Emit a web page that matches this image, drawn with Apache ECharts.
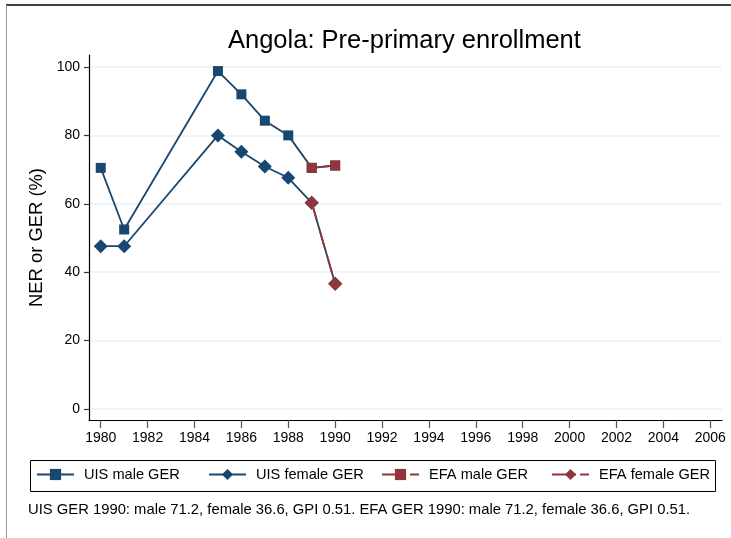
<!DOCTYPE html>
<html>
<head>
<meta charset="utf-8">
<script src="https://cdn.jsdelivr.net/npm/echarts@6/dist/echarts.min.js"></script>
<style>
  html, body { margin: 0; padding: 0; background: #fff; }
  #chart { width: 731px; height: 538px; }
</style>
</head>
<body>
<div id="chart"></div>
<script>
const xTicks = [1980, 1982, 1984, 1986, 1988, 1990, 1992, 1994, 1996, 1998, 2000, 2002, 2004, 2006];
const yTicks = [0, 20, 40, 60, 80, 100];

const years = [1980, 1981, 1985, 1986, 1987, 1988, 1989, 1990];
const uisMale = [70.5, 52.5, 98.8, 92.0, 84.3, 80.0, 70.5, 71.2];
const uisFemale = [47.6, 47.6, 80.0, 75.2, 70.9, 67.6, 60.3, 36.6];

const efaYears = [1989, 1990];
const efaMale = [70.5, 71.2];
const efaFemale = [60.3, 36.6];

const seriesNames = ["UIS male GER", "UIS female GER", "EFA male GER", "EFA female GER"];
const caption = "UIS GER 1990: male 71.2, female 36.6, GPI 0.51. EFA GER 1990: male 71.2, female 36.6, GPI 0.51.";

const blue = "#1a476f";
const red = "#90353b";
const font = "Liberation Sans, Arial, Helvetica, sans-serif";

function pairs(xs, ys) {
  return xs.map((x, i) => [x, ys[i]]);
}

function makeSeries(name, xs, ys, color, symbol, size, dashed) {
  return {
    name: name,
    type: "line",
    data: pairs(xs, ys),
    symbol: symbol,
    symbolSize: size,
    itemStyle: { color: color },
    lineStyle: { color: color, width: 1.8, type: dashed ? [18, 4, 2, 4] : "solid" },
    emphasis: { disabled: true },
    z: dashed ? 3 : 2
  };
}

// one legend per item so each entry sits where the reference has it
const legendLefts = [36, 208, 381, 551];
const legends = seriesNames.map((name, i) => ({
  data: [name],
  left: legendLefts[i],
  top: 467,
  itemWidth: 37,
  itemHeight: 14,
  padding: 0,
  selectedMode: false,
  textStyle: { fontFamily: font, fontSize: 14.6, color: "#000", padding: [0, 0, 0, 5] }
}));

const chart = echarts.init(document.getElementById("chart"), null, { renderer: "canvas" });

chart.setOption({
  animation: false,
  backgroundColor: "#fff",
  title: [
    {
      text: "Angola: Pre-primary enrollment",
      left: 228,
      top: 28,
      padding: 0,
      textStyle: { fontFamily: font, fontSize: 25.5, fontWeight: "normal", color: "#000" }
    },
    {
      text: caption,
      left: 28,
      top: 502,
      padding: 0,
      textStyle: { fontFamily: font, fontSize: 14.8, fontWeight: "normal", color: "#000" }
    }
  ],
  legend: legends,
  grid: { left: 89, right: 9, top: 55, bottom: 118 },
  xAxis: {
    type: "value",
    min: 1979.5,
    max: 2006.5,
    axisLine: { onZero: false, lineStyle: { color: "#000", width: 1.2 } },
    axisTick: { length: 8, lineStyle: { color: "#555", width: 1.2 }, customValues: xTicks },
    axisLabel: {
      customValues: xTicks,
      margin: 11,
      fontFamily: font,
      fontSize: 14,
      color: "#000",
      formatter: (v) => String(v)
    },
    splitLine: { show: false }
  },
  yAxis: {
    type: "value",
    min: -3.2,
    max: 103.5,
    name: "NER or GER (%)",
    nameLocation: "middle",
    nameGap: 43,
    nameTextStyle: { fontFamily: font, fontSize: 18.4, color: "#000" },
    axisLine: { show: true, onZero: false, lineStyle: { color: "#000", width: 1.2 } },
    axisTick: { show: true, length: 5, lineStyle: { color: "#333", width: 1.2 }, customValues: yTicks },
    axisLabel: { customValues: yTicks, margin: 9, fontFamily: font, fontSize: 14, color: "#000" },
    splitLine: { show: true, lineStyle: { color: "#eaf2f3", width: 1.5 } }
  },
  graphic: [
    { type: "line", shape: { x1: 6, y1: 5, x2: 731, y2: 5 }, style: { stroke: "#000", lineWidth: 1.5 } },
    { type: "line", shape: { x1: 6.5, y1: 5, x2: 6.5, y2: 538 }, style: { stroke: "#999", lineWidth: 1 } },
    { type: "rect", shape: { x: 30.5, y: 460.5, width: 685, height: 31 }, style: { fill: "none", stroke: "#000", lineWidth: 1 } }
  ],
  series: [
    makeSeries(seriesNames[0], years, uisMale, blue, "rect", 10, false),
    makeSeries(seriesNames[1], years, uisFemale, blue, "diamond", 14, false),
    makeSeries(seriesNames[2], efaYears, efaMale, red, "rect", 10, true),
    makeSeries(seriesNames[3], efaYears, efaFemale, red, "diamond", 14, true)
  ]
});
</script>
</body>
</html>
